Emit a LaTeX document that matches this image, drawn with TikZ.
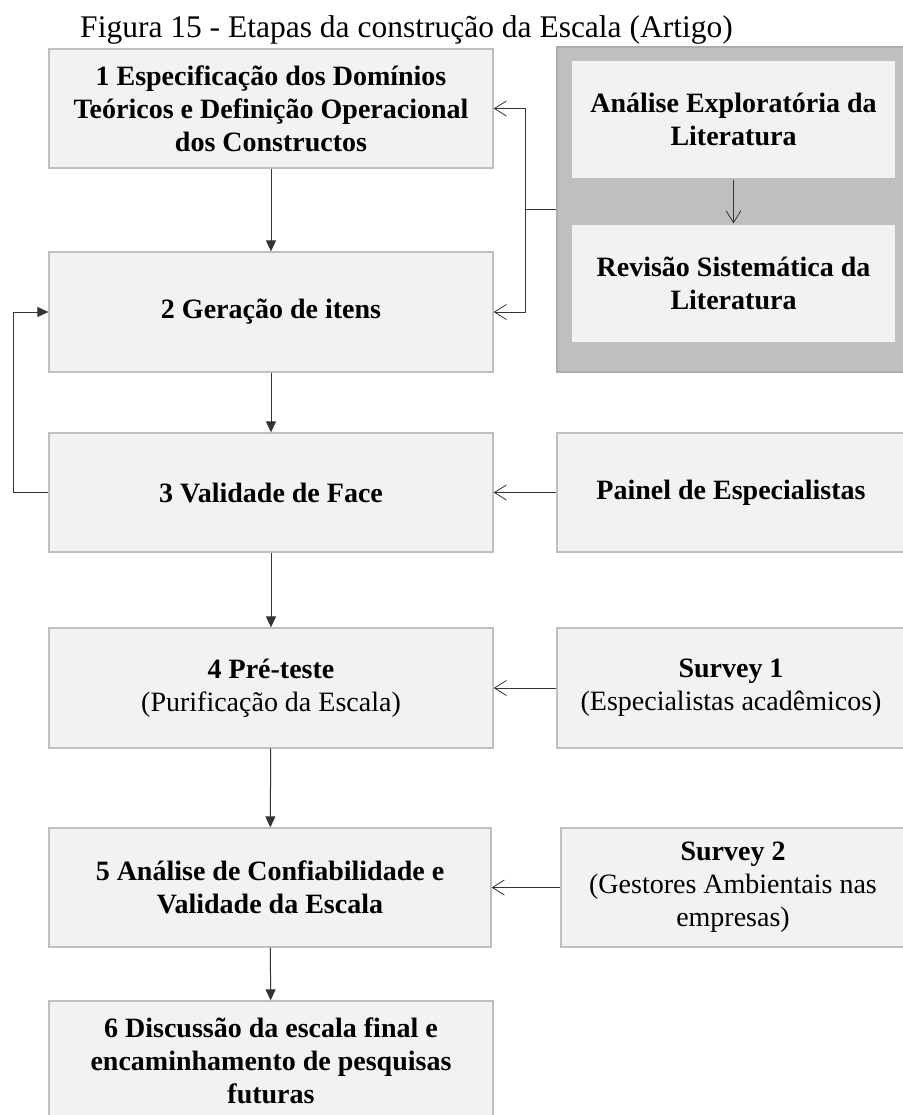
\documentclass[tikz,border=0pt]{standalone}
\usepackage{fontspec}
\setmainfont{Liberation Serif}
\usetikzlibrary{arrows.meta}

\definecolor{boxfill}{HTML}{F2F2F2}
\definecolor{boxline}{HTML}{BFBFBF}
\definecolor{groupfill}{HTML}{BFBFBF}
\definecolor{groupline}{HTML}{ADADAD}
\definecolor{wire}{HTML}{333333}

\tikzset{
  stage/.style={draw=boxline, line width=1.3pt, fill=boxfill, inner sep=0pt,
    align=center, font=\fontsize{28}{33}\selectfont},
  group/.style={draw=groupline, line width=1.3pt, fill=groupfill, inner sep=0pt},
  flow/.style={draw=wire, line width=1pt, -{Triangle[length=11pt,width=10pt]}},
  feed/.style={draw=wire, line width=1pt, -{Straight Barb[length=12pt,width=15pt,line width=0.8pt]}},
}

\begin{document}
\begin{tikzpicture}[x=1pt,y=-1pt]
\useasboundingbox (0,0) rectangle (902,1115);

% caption
\node[anchor=base, inner sep=0pt, font=\fontsize{31.5}{36}\selectfont] (title) at (406.5,38)
  {Figura 15 - Etapas da construção da Escala (Artigo)};

% main stages
\node[stage, minimum width=444pt, minimum height=119pt] (s1) at (271,108.5)
  {\textbf{1 Especificação dos Domínios}\\\textbf{Teóricos e Definição Operacional}\\\textbf{dos Constructos}};
\node[stage, minimum width=444pt, minimum height=120pt] (s2) at (271,312)
  {\textbf{2 Geração de itens}};
\node[stage, minimum width=444pt, minimum height=119pt] (s3) at (271,492.5)
  {\textbf{3 Validade de Face}};
\node[stage, minimum width=444pt, minimum height=120pt] (s4) at (271,688)
  {\textbf{4 Pré-teste}\\(Purificação da Escala)};
\node[stage, minimum width=442pt, minimum height=119pt] (s5) at (270,887.5)
  {\textbf{5 Análise de Confiabilidade e}\\\textbf{Validade da Escala}};
\node[stage, minimum width=444pt, minimum height=120pt] (s6) at (271,1061)
  {\textbf{6 Discussão da escala final e}\\\textbf{encaminhamento de pesquisas}\\\textbf{futuras}};

% literature group
\node[group, minimum width=348pt, minimum height=325pt] (lit) at (731,209.5) {};
\node[stage, minimum width=325pt, minimum height=119pt] (ae) at (733.5,119.5)
  {\textbf{Análise Exploratória da}\\\textbf{Literatura}};
\node[stage, minimum width=325pt, minimum height=119pt] (rs) at (733.5,283.5)
  {\textbf{Revisão Sistemática da}\\\textbf{Literatura}};

% side inputs
\node[stage, minimum width=348pt, minimum height=119pt] (pe) at (731,492.5)
  {\textbf{Painel de Especialistas}};
\node[stage, minimum width=348pt, minimum height=120pt] (sv1) at (731,688)
  {\textbf{Survey 1}\\(Especialistas acadêmicos)};
\node[stage, minimum width=344pt, minimum height=119pt] (sv2) at (733,887.5)
  {\textbf{Survey 2}\\(Gestores Ambientais nas\\empresas)};

% main flow
\draw[flow] (s1) -- (s2);
\draw[flow] (s2) -- (s3);
\draw[flow] (s3) -- (s4);
\draw[flow] (s4) -- (s5);
\draw[flow] (s5) -- (s6);

% feedback loop from face validity back to item generation
\coordinate (back) at (13,492.5);
\draw[flow] (s3.west) -- (back) |- (s2.west);

% literature feeds stages 1 and 2
\coordinate (split) at (525,209.5);
\draw[draw=wire, line width=1pt] (lit.west) -- (split);
\draw[feed] (split) |- (s1.east);
\draw[feed] (split) |- (s2.east);
\draw[feed] (ae) -- (rs);

% external inputs
\draw[feed] (pe) -- (s3);
\draw[feed] (sv1) -- (s4);
\draw[feed] (sv2) -- (s5);
\end{tikzpicture}
\end{document}
